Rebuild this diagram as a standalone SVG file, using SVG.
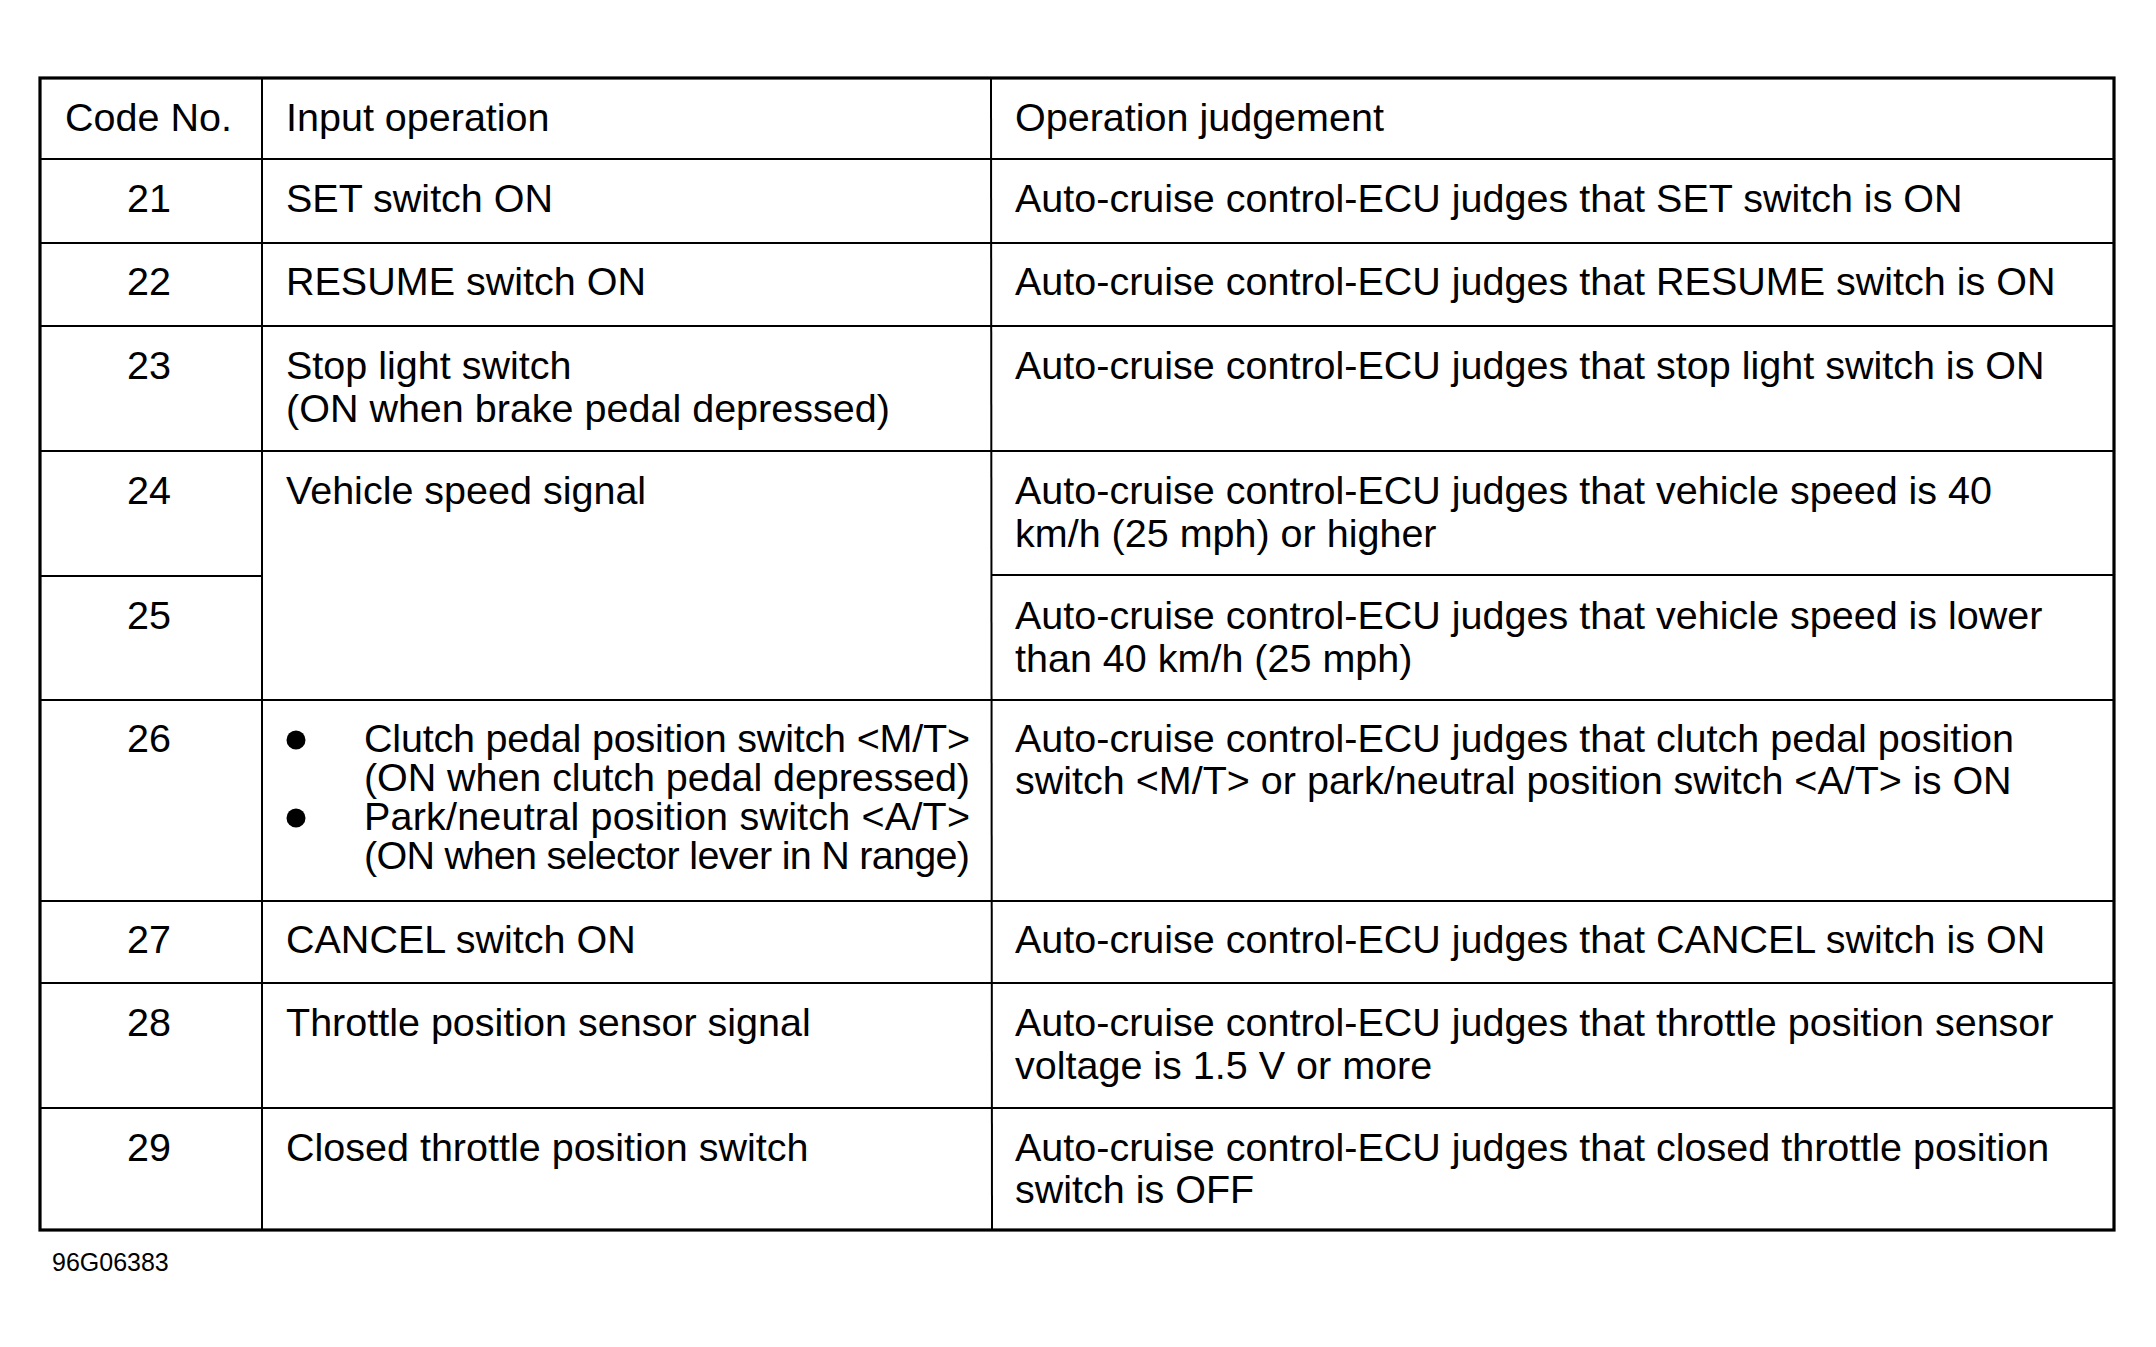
<svg xmlns="http://www.w3.org/2000/svg" width="2156" height="1347" viewBox="0 0 2156 1347">
<style>
text{font-family:"Liberation Sans",Arial,Helvetica,sans-serif;font-size:39.5px;fill:#000}
.num{text-anchor:middle}
.in{stroke:#000;stroke-width:2;fill:none}
.out{stroke:#000;stroke-width:3.2;fill:none}
.foot{font-size:25px}
</style>
<rect x="0" y="0" width="2156" height="1347" fill="#fff"/>
<g id="grid">
<line class="in" x1="262" y1="78" x2="262" y2="1230"/>
<line class="in" x1="991" y1="78" x2="992" y2="1230"/>
<line class="in" x1="40" y1="159" x2="2114" y2="159"/>
<line class="in" x1="40" y1="243" x2="2114" y2="243"/>
<line class="in" x1="40" y1="326" x2="2114" y2="326"/>
<line class="in" x1="40" y1="451" x2="2114" y2="451"/>
<line class="in" x1="40" y1="576" x2="262" y2="576"/>
<line class="in" x1="991" y1="575" x2="2114" y2="575"/>
<line class="in" x1="40" y1="700" x2="2114" y2="700"/>
<line class="in" x1="40" y1="901" x2="2114" y2="901"/>
<line class="in" x1="40" y1="983" x2="2114" y2="983"/>
<line class="in" x1="40" y1="1108" x2="2114" y2="1108"/>
<rect class="out" x="40" y="78" width="2074" height="1152"/>
</g>
<g id="header">
<text x="65" y="131">Code No.</text>
<text x="286" y="131">Input operation</text>
<text x="1015" y="131">Operation judgement</text>
</g>
<g id="row21">
<text class="num" x="149" y="212">21</text>
<text x="286" y="212">SET switch ON</text>
<text x="1015" y="212">Auto-cruise control-ECU judges that SET switch is ON</text>
</g>
<g id="row22">
<text class="num" x="149" y="295">22</text>
<text x="286" y="295">RESUME switch ON</text>
<text x="1015" y="295">Auto-cruise control-ECU judges that RESUME switch is ON</text>
</g>
<g id="row23">
<text class="num" x="149" y="379">23</text>
<text x="286" y="379">Stop light switch</text>
<text x="286" y="422">(ON when brake pedal depressed)</text>
<text x="1015" y="379">Auto-cruise control-ECU judges that stop light switch is ON</text>
</g>
<g id="row24">
<text class="num" x="149" y="504">24</text>
<text x="286" y="504">Vehicle speed signal</text>
<text x="1015" y="504">Auto-cruise control-ECU judges that vehicle speed is 40</text>
<text x="1015" y="547">km/h (25 mph) or higher</text>
</g>
<g id="row25">
<text class="num" x="149" y="629">25</text>
<text x="1015" y="629">Auto-cruise control-ECU judges that vehicle speed is lower</text>
<text x="1015" y="672">than 40 km/h (25 mph)</text>
</g>
<g id="row26">
<text class="num" x="149" y="752">26</text>
<circle cx="296" cy="740" r="9.5" fill="#000"/>
<circle cx="296" cy="818" r="9.5" fill="#000"/>
<text x="364" y="752" textLength="606" lengthAdjust="spacing">Clutch pedal position switch &lt;M/T&gt;</text>
<text x="364" y="791" textLength="606" lengthAdjust="spacing">(ON when clutch pedal depressed)</text>
<text x="364" y="830" textLength="606" lengthAdjust="spacing">Park/neutral position switch &lt;A/T&gt;</text>
<text x="364" y="869" textLength="606" lengthAdjust="spacing">(ON when selector lever in N range)</text>
<text x="1015" y="752">Auto-cruise control-ECU judges that clutch pedal position</text>
<text x="1015" y="794">switch &lt;M/T&gt; or park/neutral position switch &lt;A/T&gt; is ON</text>
</g>
<g id="row27">
<text class="num" x="149" y="953">27</text>
<text x="286" y="953">CANCEL switch ON</text>
<text x="1015" y="953">Auto-cruise control-ECU judges that CANCEL switch is ON</text>
</g>
<g id="row28">
<text class="num" x="149" y="1036">28</text>
<text x="286" y="1036">Throttle position sensor signal</text>
<text x="1015" y="1036">Auto-cruise control-ECU judges that throttle position sensor</text>
<text x="1015" y="1079">voltage is 1.5 V or more</text>
</g>
<g id="row29">
<text class="num" x="149" y="1161">29</text>
<text x="286" y="1161">Closed throttle position switch</text>
<text x="1015" y="1161">Auto-cruise control-ECU judges that closed throttle position</text>
<text x="1015" y="1203">switch is OFF</text>
</g>
<g id="footer">
<text class="foot" x="52" y="1271">96G06383</text>
</g>
</svg>
